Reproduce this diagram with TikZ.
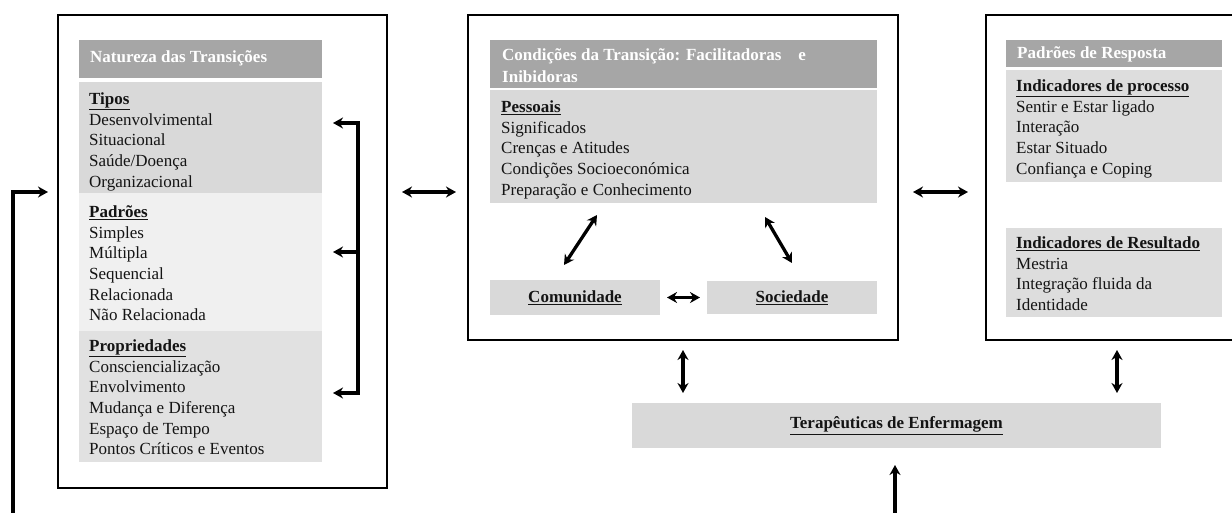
\documentclass[tikz,border=0pt]{standalone}
\usepackage{fontspec}
\setmainfont{Liberation Serif}
\usetikzlibrary{arrows.meta,calc}
\definecolor{hdrg}{HTML}{A6A6A6}
\definecolor{secA}{HTML}{D9D9D9}
\definecolor{secB}{HTML}{F0F0F0}
\definecolor{secC}{HTML}{E1E1E1}
\definecolor{secD}{HTML}{DDDDDD}
\definecolor{txtc}{HTML}{141414}
\newcommand{\bodyfnt}{\fontsize{17}{20.6}\selectfont}
\newcommand{\hd}[1]{\underline{\textbf{#1}}}
\begin{document}
\begin{tikzpicture}[x=1pt,y=-1pt,
  outerbox/.style={draw=black,line width=2.9pt,inner sep=0,outer sep=0,anchor=north west},
  secbox/.style={inner sep=0,outer sep=0,anchor=north west},
  txt/.style={anchor=north west,inner sep=0,align=left,text=txtc,font=\bodyfnt},
  htxt/.style={anchor=west,inner sep=0,align=left,text=white,font=\bodyfnt\bfseries},
  ctxt/.style={text=txtc,font=\bodyfnt},
  arr/.style={line width=3.3pt,-{Stealth[length=10pt,width=11pt]}},
  dbl/.style={line width=3.3pt,{Stealth[length=10pt,width=11pt]}-{Stealth[length=10pt,width=11pt]}}]
\useasboundingbox (0,0) rectangle (1232,512);
\fill[white] (0,0) rectangle (1232,512);

% outer boxes
\node[outerbox,minimum width=329pt,minimum height=473pt] (L) at (58,15) {};
\node[outerbox,minimum width=430pt,minimum height=325pt] (M) at (468,15) {};
\node[outerbox,minimum width=270pt,minimum height=325pt] (R) at (986,15) {};

% left sections
\node[secbox,fill=hdrg,minimum width=243pt,minimum height=38pt] (Lh) at (79,40) {};
\node[secbox,fill=secA,minimum width=243pt,minimum height=111pt] (Lt) at (79,82) {};
\node[secbox,fill=secB,minimum width=243pt,minimum height=138pt] (Lp) at (79,193) {};
\node[secbox,fill=secC,minimum width=243pt,minimum height=131pt] (Lq) at (79,331) {};
\node[htxt] (Lhx) at ($(Lh.west)+(11,-1)$) {\strut Natureza das Transições};
\node[txt] (Ltx) at (89,90) {\strut\hd{Tipos}\\Desenvolvimental\\Situacional\\Saúde/Doença\\Organizacional};
\node[txt] (Lpx) at (89,203) {\strut\hd{Padrões}\\Simples\\Múltipla\\Sequencial\\Relacionada\\Não Relacionada};
\node[txt] (Lqx) at (89,337) {\strut\hd{Propriedades}\\Consciencialização\\Envolvimento\\Mudança e Diferença\\Espaço de Tempo\\Pontos Críticos e Eventos};

% middle sections
\node[secbox,fill=hdrg,minimum width=387pt,minimum height=48pt] (Mh) at (490,40) {};
\node[secbox,fill=secA,minimum width=387pt,minimum height=113pt] (Mp) at (490,90) {};
\node[secbox,fill=secA,minimum width=170pt,minimum height=35pt] (Com) at (490,280) {};
\node[secbox,fill=secA,minimum width=170pt,minimum height=33pt] (Soc) at (707,281) {};
\node[txt,text=white,font=\fontsize{17}{22}\selectfont\bfseries] (Mhx) at (502,45) {\strut Condições da Transição: Facilitadoras\quad e\\Inibidoras};
\node[txt] (Mpx) at (501,98) {\strut\hd{Pessoais}\\Significados\\Crenças e Atitudes\\Condições Socioeconómica\\Preparação e Conhecimento};
\node[ctxt] (Comx) at (Com.center) {\hd{Comunidade}};
\node[ctxt] (Socx) at (Soc.center) {\hd{Sociedade}};

% right sections
\node[secbox,fill=hdrg,minimum width=216pt,minimum height=27pt] (Rh) at (1006,40) {};
\node[secbox,fill=secD,minimum width=216pt,minimum height=112pt] (Rp) at (1006,70) {};
\node[secbox,fill=secD,minimum width=216pt,minimum height=89pt] (Rr) at (1006,228) {};
\node[htxt] (Rhx) at ($(Rh.west)+(11,1)$) {\strut Padrões de Resposta};
\node[txt] (Rpx) at (1016,77) {\strut\hd{Indicadores de processo}\\Sentir e Estar ligado\\Interação\\Estar Situado\\Confiança e Coping};
\node[txt] (Rrx) at (1016,234) {\strut\hd{Indicadores de Resultado}\\Mestria\\Integração fluida da\\Identidade};

% bottom box
\node[secbox,fill=secA,minimum width=529pt,minimum height=45pt] (Ter) at (632,403) {};
\node[ctxt] (Terx) at (Ter.center) {\hd{Terapêuticas de Enfermagem}};

% connectors
\draw[dbl] ($(L.north east)+(15,177)$) -- ($(M.north west)+(-12,177)$);
\draw[dbl] ($(M.north east)+(15,177)$) -- ($(R.north west)+(-18,177)$);
\draw[dbl] ($(Com.east)+(7,0)$) -- ($(Soc.west)+(-7,0)$);
\draw[dbl] ($(Mp.south west)+(107,12)$) -- ($(Com.north west)+(74,-15)$);
\draw[dbl] ($(Mp.south west)+(275,14)$) -- ($(Soc.north west)+(85,-18)$);
\draw[dbl] ($(M.south west)+(215,10)$) -- ($(Ter.north west)+(51,-10)$);
\draw[dbl] ($(R.south west)+(131,10)$) -- ($(Ter.north east)+(-44,-10)$);

% bracket in left box
\coordinate (t1) at ($(Lt.north east)+(11,41)$);
\coordinate (t2) at ($(Lp.north east)+(11,59)$);
\coordinate (t3) at ($(Lq.north east)+(11,62)$);
\draw[dbl] (t1) -- ++(25,0) |- (t3);
\draw[arr] ($(t2)+(25,0)$) -- (t2);

% feedback lines from bottom
\coordinate (b1) at (13,514);
\draw[arr] (b1) |- ($(L.north west)+(-10,177)$);
\coordinate (b2) at (895,514);
\draw[arr] (b2) -- (b2 |- 0,465);
\end{tikzpicture}
\end{document}
